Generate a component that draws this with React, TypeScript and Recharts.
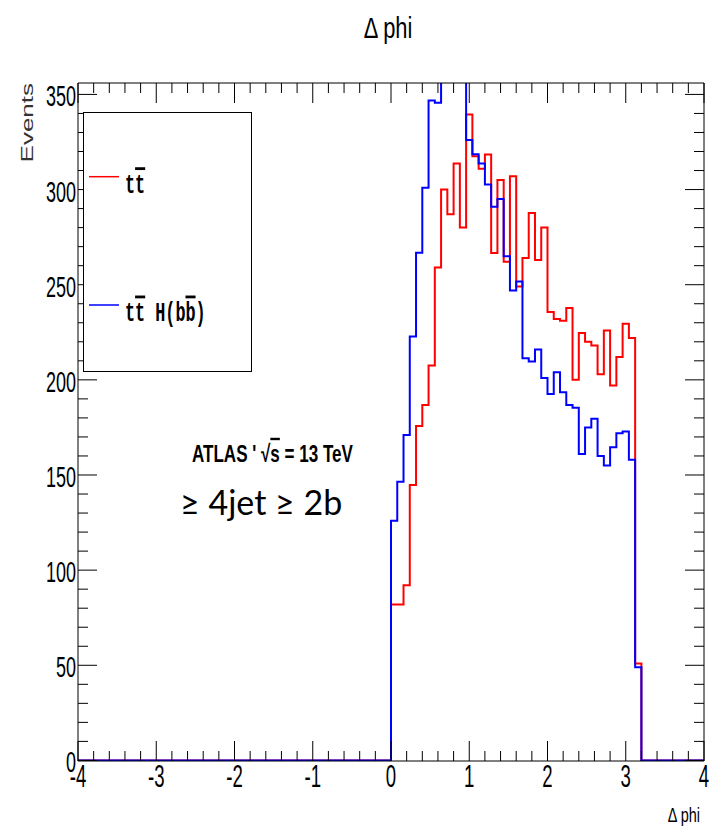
import React from 'react';
import { LineChart, Line, XAxis, YAxis, Legend } from 'recharts';

// ---- data ----
const X_MIN = -4;
const X_MAX = 4;
const HIST_START = 0;
const BIN_WIDTH = 0.08;
const Y_MIN = -0.3;
const Y_MAX = 356;

// tt̄ (red) bin contents, bins of 0.08 starting at 0
const ttbar = [
  82, 82, 92, 144.7, 175.8, 186.8, 207.5, 259, 300, 287,
  313.7, 280, 339.5, 317.5, 311, 318.4, 266.7, 305, 262, 307,
  249, 264, 287.7, 263, 280, 235.6, 232, 231, 237.7, 200,
  224.6, 220, 218, 203, 226, 197, 212, 229.5, 222, 51,
];
// tt̄H(bb̄) (blue) bin contents
const ttH = [
  126, 146.5, 171, 222.8, 266.8, 301, 346.8, 345.6, 370, 385,
  380, 365, 326, 318.6, 313.7, 302.6, 291, 295, 265, 247,
  251.7, 211.4, 209.6, 216, 201, 192.5, 204, 193.5, 186.8, 185.4,
  161, 175, 179.5, 160, 155, 164.6, 172, 172.8, 158, 49,
];

const xTicks: number[] = [];
for (let i = 0; i <= 40; i++) xTicks.push(Math.round((X_MIN + i * 0.2) * 10) / 10);
const yTicks: number[] = [];
for (let v = 0; v <= 350; v += 10) yTicks.push(v);

const round = (v: number) => Math.round(v * 1000) / 1000;
const rows: { x: number; tt: number; tth: number }[] = [{ x: X_MIN, tt: 0, tth: 0 }];
ttbar.forEach((v, i) => rows.push({ x: round(HIST_START + i * BIN_WIDTH), tt: v, tth: ttH[i] }));
rows.push({ x: round(HIST_START + ttbar.length * BIN_WIDTH), tt: 0, tth: 0 });
rows.push({ x: X_MAX, tt: 0, tth: 0 });

// ---- styling helpers ----
const FONT = '"Liberation Sans", Arial, Helvetica, sans-serif';
const SX = 0.6;
const isInt = (v: number) => Math.abs(v - Math.round(v)) < 1e-6;

function BottomTick(props: any) {
  const { x, y, payload } = props;
  const v = payload.value as number;
  const major = isInt(v);
  return (
    <g>
      <line x1={x} x2={x} y1={y} y2={y - (major ? 20 : 10)} stroke="#000" strokeWidth={1} />
      {major && (
        <text transform={`translate(${x},${y + 26}) scale(${SX},1)`} textAnchor="middle" fontFamily={FONT} fontSize={31} fill="#000">
          {String(Math.round(v))}
        </text>
      )}
    </g>
  );
}

function TopTick(props: any) {
  const { x, y, payload } = props;
  const major = isInt(payload.value);
  return <line x1={x} x2={x} y1={y} y2={y + (major ? 20 : 10)} stroke="#000" strokeWidth={1} />;
}

function LeftTick(props: any) {
  const { x, y, payload } = props;
  const v = payload.value as number;
  const major = v % 50 === 0;
  return (
    <g>
      <line x1={x} x2={x + (major ? 19 : 10)} y1={y} y2={y} stroke="#000" strokeWidth={1} />
      {major && (
        <text transform={`translate(${x - 2},${y + 12}) scale(${SX},1)`} textAnchor="end" fontFamily={FONT} fontSize={30} fill="#000">
          {String(v)}
        </text>
      )}
    </g>
  );
}

function RightTick(props: any) {
  const { x, y, payload } = props;
  const major = (payload.value as number) % 50 === 0;
  return <line x1={x} x2={x - (major ? 19 : 10)} y1={y} y2={y} stroke="#000" strokeWidth={1} />;
}

type Seg = { t: string; over?: boolean };
const legendLabels: Record<string, Seg[]> = {
  tt: [{ t: 't' }, { t: 't', over: true }],
  tth: [{ t: 't' }, { t: 't', over: true }, { t: ' H(b' }, { t: 'b', over: true }, { t: ')' }],
};
const legendLineY = [64.7, 193];

function LegendBox(props: any) {
  const payload = props.payload || [];
  return (
    <svg width={169} height={260} style={{ display: 'block' }}>
      <rect x={0.5} y={0.5} width={168} height={259} fill="#fff" stroke="#000" strokeWidth={1} />
      {payload.map((p: any, i: number) => {
        const ly = legendLineY[i];
        const segs = legendLabels[p.dataKey] || [{ t: String(p.value) }];
        return (
          <g key={i}>
            <line x1={6} x2={36} y1={ly} y2={ly} stroke={p.color} strokeWidth={1.5} />
            <text
              transform={`translate(42,${ly + 16}) scale(0.6,1)`}
              fontFamily='"Liberation Mono", "DejaVu Sans Mono", monospace'
              fontWeight="bold"
              fontSize={28}
              fill="#000"
              style={{ whiteSpace: 'pre' }}
            >
              {segs.map((s, j) => (
                <tspan key={j} style={s.over ? { textDecoration: 'overline' } : undefined}>
                  {s.t}
                </tspan>
              ))}
            </text>
          </g>
        );
      })}
    </svg>
  );
}

export default function App() {
  return (
    <div style={{ position: 'absolute', left: 0, top: 0, width: 712, height: 826, background: '#fff' }}>
      <LineChart width={712} height={826} data={rows} margin={{ top: 82, right: 7, bottom: 25, left: 0 }}>
        <XAxis
          xAxisId="b"
          dataKey="x"
          type="number"
          domain={[X_MIN, X_MAX]}
          ticks={xTicks}
          interval={0}
          tickLine={false}
          tickSize={0}
          tickMargin={0}
          tick={BottomTick}
          axisLine={{ stroke: '#000', strokeWidth: 1 }}
          height={40}
        />
        <XAxis
          xAxisId="t"
          orientation="top"
          dataKey="x"
          type="number"
          domain={[X_MIN, X_MAX]}
          ticks={xTicks}
          interval={0}
          tickLine={false}
          tickSize={0}
          tickMargin={0}
          tick={TopTick}
          axisLine={{ stroke: '#000', strokeWidth: 1 }}
          height={1}
        />
        <YAxis
          yAxisId="l"
          type="number"
          domain={[Y_MIN, Y_MAX]}
          allowDataOverflow
          ticks={yTicks}
          interval={0}
          tickLine={false}
          tickSize={0}
          tickMargin={0}
          tick={LeftTick}
          axisLine={{ stroke: '#000', strokeWidth: 1 }}
          width={78}
        />
        <YAxis
          yAxisId="r"
          orientation="right"
          type="number"
          domain={[Y_MIN, Y_MAX]}
          allowDataOverflow
          ticks={yTicks}
          interval={0}
          tickLine={false}
          tickSize={0}
          tickMargin={0}
          tick={RightTick}
          axisLine={{ stroke: '#000', strokeWidth: 1 }}
          width={1}
        />
        <Legend
          layout="horizontal"
          verticalAlign="middle"
          align="center"
          content={LegendBox}
          wrapperStyle={{ left: 83, top: 112, width: 169, height: 260 }}
        />
        <Line
          xAxisId="b"
          yAxisId="l"
          type="stepAfter"
          dataKey="tt"
          name="tt"
          stroke="#ff0000"
          strokeWidth={2}
          dot={false}
          activeDot={false}
          isAnimationActive={false}
        />
        <Line
          xAxisId="b"
          yAxisId="l"
          type="stepAfter"
          dataKey="tth"
          name="ttH"
          stroke="#0000ff"
          strokeWidth={2}
          dot={false}
          activeDot={false}
          isAnimationActive={false}
        />
      </LineChart>
      <svg width={712} height={826} style={{ position: 'absolute', left: 0, top: 0, pointerEvents: 'none' }}>
        <text transform="translate(388,38) scale(0.73,1)" textAnchor="middle" fontFamily={FONT} fontSize={30} fill="#000">
          Δ phi
        </text>
        <text transform="translate(33,83) scale(0.65,1) rotate(-90)" textAnchor="end" fontFamily={FONT} fontSize={26} fill="#333">
          Events
        </text>
        <text transform="translate(700,822) scale(0.69,1)" textAnchor="end" fontFamily={FONT} fontSize={21} fill="#000">
          Δ phi
        </text>
        <text transform="translate(192,462) scale(0.71,1)" fontFamily={FONT} fontWeight="bold" fontSize={24} fill="#000" style={{ whiteSpace: 'pre' }}>
          <tspan>{"ATLAS ' √"}</tspan>
          <tspan style={{ textDecoration: 'overline' }}>s</tspan>
          <tspan>{' = 13 TeV'}</tspan>
        </text>
        <text x={180} y={515} fontFamily='Lato, "Open Sans", sans-serif' fontSize={34} fill="#000">
          ≥ 4jet ≥ 2b
        </text>
      </svg>
    </div>
  );
}
